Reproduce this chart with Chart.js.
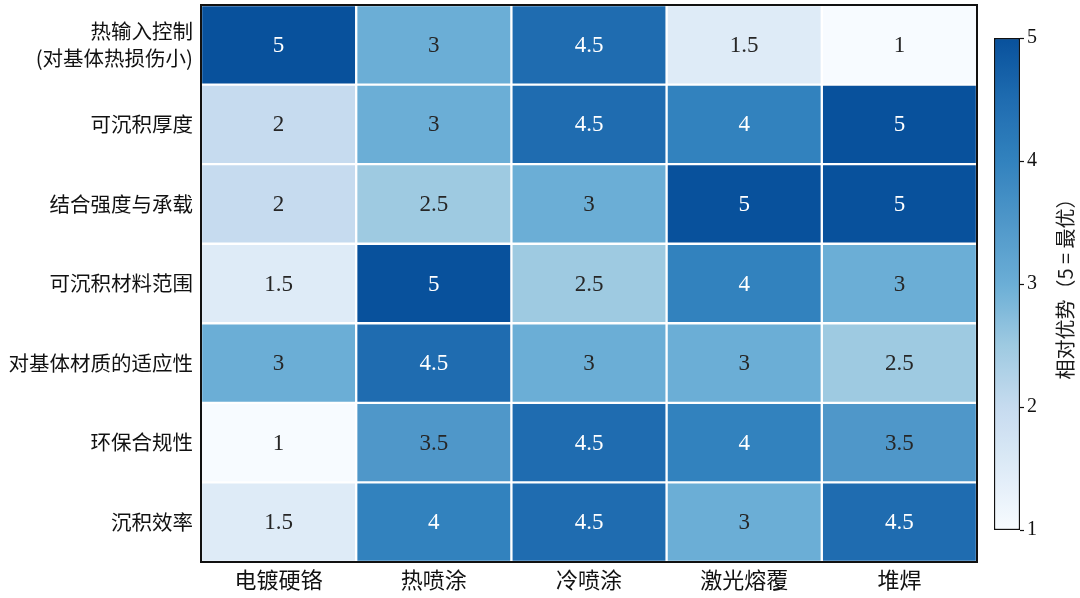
<!DOCTYPE html>
<html lang="zh">
<head>
<meta charset="utf-8">
<title>表面处理工艺对比</title>
<script src="https://cdn.jsdelivr.net/npm/chart.js@4/dist/chart.umd.min.js"></script>
<style>
  html, body { margin: 0; padding: 0; background: #fff; }
  #wrap { position: relative; width: 1080px; height: 598px; }
  #wrap canvas { position: absolute; left: 0; top: 0; }
</style>
</head>
<body>
<div id="wrap">
  <canvas id="heatChart" width="1080" height="598"></canvas>
  <canvas id="barChart" width="1080" height="598"></canvas>
</div>
<script>
"use strict";

/**************************************************************
 * Data
 **************************************************************/
const METHODS = ["电镀硬铬", "热喷涂", "冷喷涂", "激光熔覆", "堆焊"];

const CRITERIA = [
  ["热输入控制", "(对基体热损伤小)"],
  "可沉积厚度",
  "结合强度与承载",
  "可沉积材料范围",
  "对基体材质的适应性",
  "环保合规性",
  "沉积效率",
];

// one row per criterion, one column per method
const SCORES = [
  [5, 3, 4.5, 1.5, 1],
  [2, 3, 4.5, 4, 5],
  [2, 2.5, 3, 5, 5],
  [1.5, 5, 2.5, 4, 3],
  [3, 4.5, 3, 3, 2.5],
  [1, 3.5, 4.5, 4, 3.5],
  [1.5, 4, 4.5, 3, 4.5],
];

const SCORE_MIN = 1;
const SCORE_MAX = 5;
const SCALE_TICKS = [1, 2, 3, 4, 5];
const SCALE_TITLE = "相对优势（5 = 最优）";

/**************************************************************
 * Colour map (Blues, light -> dark)
 **************************************************************/
const BLUES = [
  "#f7fbff", "#deebf7", "#c6dbef", "#9ecae1", "#6baed6",
  "#4f97c9", "#3282be", "#1f6cb0", "#08519c",
];

function hexToRgb(h) {
  return [1, 3, 5].map((i) => parseInt(h.substr(i, 2), 16));
}

function colorFor(v) {
  const t = (v - SCORE_MIN) / (SCORE_MAX - SCORE_MIN);
  const p = Math.max(0, Math.min(1, t)) * (BLUES.length - 1);
  const i = Math.min(Math.floor(p), BLUES.length - 2);
  const f = p - i;
  const a = hexToRgb(BLUES[i]);
  const b = hexToRgb(BLUES[i + 1]);
  const c = a.map((x, k) => Math.round(x + (b[k] - x) * f));
  return `rgb(${c[0]}, ${c[1]}, ${c[2]})`;
}

const SANS = "'Noto Sans CJK SC', 'Noto Sans', sans-serif";
const SERIF = "'Liberation Serif', 'DejaVu Serif', serif";

/**************************************************************
 * Plugins
 **************************************************************/
const cellLabels = {
  id: "cellLabels",
  afterDatasetsDraw(chart) {
    const ctx = chart.ctx;
    ctx.save();
    ctx.font = `23px ${SERIF}`;
    ctx.textAlign = "center";
    ctx.textBaseline = "middle";
    chart.data.datasets.forEach((ds, r) => {
      chart.getDatasetMeta(r).data.forEach((bar, c) => {
        const v = SCORES[r][c];
        const pt = bar.getCenterPoint();
        ctx.fillStyle = v >= 4 ? "#ffffff" : "#262626";
        ctx.fillText(String(v), pt.x, pt.y + 1);
      });
    });
    ctx.restore();
  },
};

const frameBox = {
  id: "frameBox",
  afterDatasetsDraw(chart) {
    const { ctx, chartArea: a } = chart;
    ctx.save();
    ctx.strokeStyle = "#111";
    ctx.lineWidth = 2;
    ctx.strokeRect(a.left, a.top, a.right - a.left, a.bottom - a.top);
    ctx.restore();
  },
};

const scaleTitle = {
  id: "scaleTitle",
  afterDraw(chart) {
    const { ctx, chartArea: a } = chart;
    ctx.save();
    ctx.translate(1065, (a.top + a.bottom) / 2);
    ctx.rotate(-Math.PI / 2);
    ctx.font = `20px ${SANS}`;
    ctx.fillStyle = "#1a1a1a";
    ctx.textAlign = "center";
    ctx.textBaseline = "middle";
    ctx.fillText(SCALE_TITLE, 0, 0);
    ctx.restore();
  },
};

/**************************************************************
 * Heatmap
 **************************************************************/
new Chart(document.getElementById("heatChart"), {
  type: "bar",
  data: {
    labels: METHODS,
    datasets: CRITERIA.map((name, r) => ({
      label: Array.isArray(name) ? name.join("") : name,
      data: METHODS.map(() => [r, r + 1]),
      backgroundColor: (c) => colorFor(SCORES[r][c.dataIndex]),
      borderColor: "#ffffff",
      borderWidth: 1.5,
      borderSkipped: false,
      barPercentage: 1,
      categoryPercentage: 1,
      grouped: false,
    })),
  },
  options: {
    responsive: false,
    animation: false,
    layout: { padding: { top: 5, right: 103, left: 0, bottom: 0 } },
    plugins: {
      legend: { display: false },
      tooltip: { enabled: false },
    },
    scales: {
      x: {
        grid: { display: false, drawTicks: false },
        border: { display: false },
        ticks: {
          color: "#111",
          font: { family: SANS, size: 22 },
          padding: 4,
          maxRotation: 0,
          autoSkip: false,
        },
        afterFit: (s) => {
          s.height = 36;
          s.paddingLeft = 0;
          s.paddingRight = 0;
        },
      },
      y: {
        type: "linear",
        min: 0,
        max: CRITERIA.length,
        reverse: true,
        grid: { display: false, drawTicks: false },
        border: { display: false },
        afterBuildTicks: (s) => {
          s.ticks = CRITERIA.map((_, i) => ({ value: i + 0.5 }));
        },
        ticks: {
          color: "#111",
          font: { family: SANS, size: 20.5, lineHeight: 1.3 },
          padding: 8,
          callback: (v, i) => CRITERIA[i],
        },
        afterFit: (s) => {
          s.width = 201;
          s.paddingTop = 0;
          s.paddingBottom = 0;
        },
      },
    },
  },
  plugins: [cellLabels, frameBox],
});

/**************************************************************
 * Colour bar
 **************************************************************/
new Chart(document.getElementById("barChart"), {
  type: "bar",
  data: {
    labels: [""],
    datasets: [
      {
        data: [[SCORE_MIN, SCORE_MAX]],
        backgroundColor: (c) => {
          const chart = c.chart;
          if (!chart.chartArea) return BLUES[0];
          const y = chart.scales.y;
          const g = chart.ctx.createLinearGradient(
            0, y.getPixelForValue(SCORE_MIN), 0, y.getPixelForValue(SCORE_MAX));
          for (let k = 0; k <= 40; k++) {
            const v = SCORE_MIN + (SCORE_MAX - SCORE_MIN) * k / 40;
            g.addColorStop(k / 40, colorFor(v));
          }
          return g;
        },
        borderColor: "#111",
        borderWidth: 1.5,
        borderSkipped: false,
        barPercentage: 1,
        categoryPercentage: 1,
      },
    ],
  },
  options: {
    responsive: false,
    animation: false,
    layout: { padding: { top: 38, right: 0, left: 994, bottom: 68 } },
    plugins: {
      legend: { display: false },
      tooltip: { enabled: false },
    },
    scales: {
      x: { display: false },
      y: {
        position: "right",
        min: SCORE_MIN,
        max: SCORE_MAX,
        border: { display: false },
        grid: {
          drawOnChartArea: false,
          drawTicks: true,
          tickLength: 4,
          tickWidth: 1.2,
          tickColor: "#111",
        },
        afterBuildTicks: (s) => {
          s.ticks = SCALE_TICKS.map((v) => ({ value: v }));
        },
        ticks: {
          color: "#111",
          font: { family: SERIF, size: 20 },
          padding: 3,
        },
        afterFit: (s) => {
          s.width = 60;
          s.paddingTop = 0;
          s.paddingBottom = 0;
        },
      },
    },
  },
  plugins: [scaleTitle],
});

console.log(
  "%cHeatmap Loaded",
  "background:#08519c;color:#fff;padding:6px 12px;border-radius:4px;",
);
</script>
</body>
</html>
